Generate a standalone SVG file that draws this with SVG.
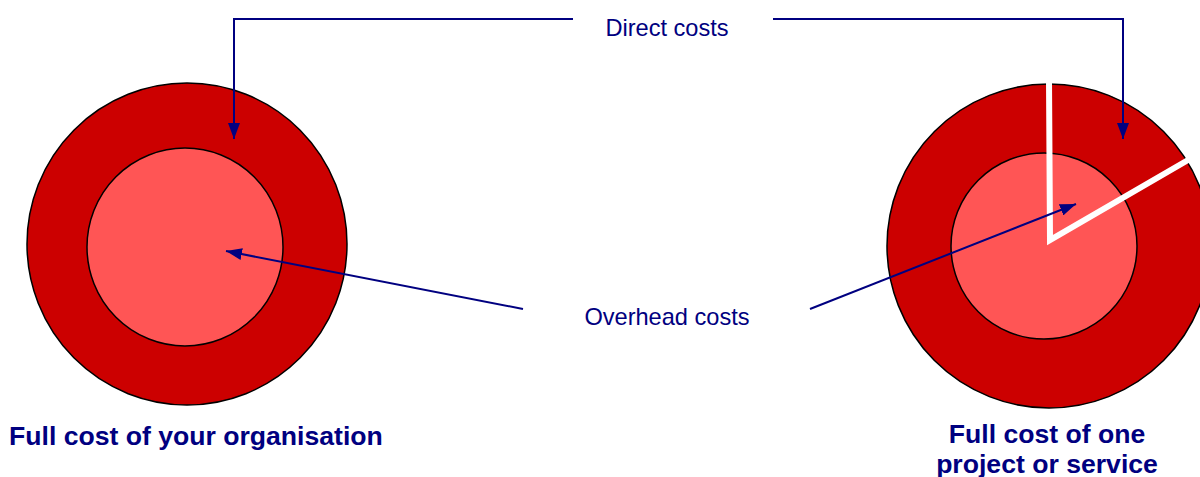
<svg xmlns="http://www.w3.org/2000/svg" width="1200" height="477" viewBox="0 0 1200 477">
<defs>
<marker id="ah" viewBox="0 0 16 12" refX="16" refY="6" markerWidth="16" markerHeight="12" markerUnits="userSpaceOnUse" orient="auto">
<path d="M0,0 L16,6 L0,12 Z" fill="#000080"/>
</marker>
<style>
.outer{fill:#CC0000;stroke:#000;stroke-width:1.5}
.inner{fill:#FF5555;stroke:#000;stroke-width:1.5}
.conn{fill:none;stroke:#000080;stroke-width:2}
.lbl{font-family:"Liberation Sans",Arial,sans-serif;font-size:23.6px;fill:#000080}
.title{font-family:"Liberation Sans",Arial,sans-serif;font-size:26.6px;font-weight:bold;fill:#000080}
.cut{fill:none;stroke:#fff;stroke-width:6}
</style>
</defs>
<rect width="1200" height="477" fill="#fff"/>
<g id="org">
<ellipse class="outer" cx="187" cy="244" rx="160" ry="161"/>
<ellipse class="inner" cx="185" cy="247" rx="98" ry="99"/>
<text class="title" x="9" y="445">Full cost of your organisation</text>
</g>
<g id="project">
<circle class="outer" cx="1049" cy="246" r="162"/>
<ellipse class="inner" cx="1044" cy="246" rx="93" ry="93"/>
<polyline class="cut" points="1049,80 1050,240 1195,156"/>
<text class="title" x="1047" y="443" text-anchor="middle">Full cost of one</text>
<text class="title" x="1047" y="473" text-anchor="middle">project or service</text>
</g>
<g id="labels">
<text class="lbl" x="667" y="36" text-anchor="middle">Direct costs</text>
<text class="lbl" x="667" y="325" text-anchor="middle">Overhead costs</text>
</g>
<g id="connectors">
<polyline class="conn" points="573,19 234,19 234,139" marker-end="url(#ah)"/>
<polyline class="conn" points="773,19 1123,19 1123,139" marker-end="url(#ah)"/>
<line class="conn" x1="523" y1="309" x2="226" y2="251" marker-end="url(#ah)"/>
<line class="conn" x1="810" y1="309" x2="1076" y2="204" marker-end="url(#ah)"/>
</g>
</svg>
